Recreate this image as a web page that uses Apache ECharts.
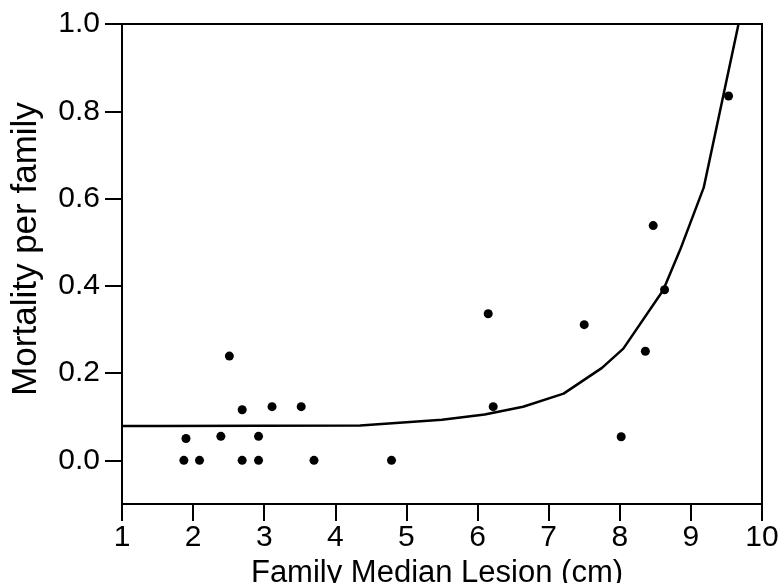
<!DOCTYPE html>
<html>
<head>
<meta charset="utf-8">
<script src="https://cdn.jsdelivr.net/npm/echarts@6/dist/echarts.min.js"></script>
<style>
  html, body { margin: 0; padding: 0; background: #fff; }
  #chart { width: 781px; height: 583px; }
</style>
</head>
<body>
<div id="chart"></div>
<script>
// observed families: median lesion (cm) vs mortality
const lesion = [1.87, 1.90, 2.09, 2.39, 2.51, 2.69, 2.69, 2.92, 2.92, 3.11, 3.52, 3.70,
  4.79, 6.15, 6.22, 7.50, 8.02, 8.36, 8.47, 8.63, 9.53];
const mortality = [0, 0.050, 0, 0.055, 0.239, 0.116, 0, 0.055, 0, 0.123, 0.123, 0,
  0, 0.336, 0.123, 0.311, 0.054, 0.250, 0.538, 0.391, 0.835];

// fitted curve
const fitX = [1.0, 1.55, 4.35, 5.5, 6.1, 6.64, 7.21, 7.75, 8.05, 8.61, 8.85, 9.18, 9.67];
const fitY = [0.079, 0.079, 0.080, 0.093, 0.105, 0.123, 0.153, 0.212, 0.256, 0.390, 0.483, 0.625, 1.0];

const xTicks = [1, 2, 3, 4, 5, 6, 7, 8, 9, 10];
const yTicks = [0, 0.2, 0.4, 0.6, 0.8, 1.0];

const FONT = "'Liberation Sans', Arial, sans-serif";

const chart = echarts.init(document.getElementById("chart"));

chart.setOption({
  backgroundColor: "#fff",
  animation: false,
  grid: {
    left: 122,
    right: 19,
    top: 24,
    bottom: 79,
    outerBoundsMode: "none",
    containLabel: false,
    show: true,
    borderColor: "#000",
    borderWidth: 2,
  },
  xAxis: {
    type: "value",
    min: 1,
    max: 10,
    interval: 1,
    name: "Family Median Lesion (cm)",
    nameLocation: "middle",
    nameGap: 46,
    nameTextStyle: { fontFamily: FONT, fontSize: 31, color: "#000", padding: [0, 10, 0, 0] },
    axisLine: { onZero: false, lineStyle: { color: "#000", width: 2 } },
    axisTick: { length: 17, lineStyle: { color: "#000", width: 2 }, customValues: xTicks },
    axisLabel: { margin: 19, fontFamily: FONT, fontSize: 30, color: "#000", customValues: xTicks },
    splitLine: { show: false },
  },
  yAxis: {
    type: "value",
    min: -0.1,
    max: 1.0,
    name: "Mortality per family",
    nameLocation: "middle",
    nameGap: 78,
    nameTextStyle: { fontFamily: FONT, fontSize: 35, color: "#000", padding: [0, 0, 0, 30] },
    axisLine: { show: true, onZero: false, lineStyle: { color: "#000", width: 2 } },
    axisTick: { show: true, length: 17, lineStyle: { color: "#000", width: 2 }, customValues: yTicks },
    axisLabel: {
      margin: 22,
      fontFamily: FONT,
      fontSize: 30,
      color: "#000",
      customValues: yTicks,
      formatter: (v) => Number(v).toFixed(1),
    },
    splitLine: { show: false },
  },
  series: [
    {
      type: "line",
      name: "Fit",
      data: fitX.map((x, i) => [x, fitY[i]]),
      symbol: "none",
      lineStyle: { color: "#000", width: 2.5 },
      clip: true,
      z: 2,
    },
    {
      type: "scatter",
      name: "Families",
      data: lesion.map((x, i) => [x, mortality[i]]),
      symbol: "circle",
      symbolSize: 9,
      itemStyle: { color: "#000", opacity: 1 },
      z: 3,
    },
  ],
});
</script>
</body>
</html>
